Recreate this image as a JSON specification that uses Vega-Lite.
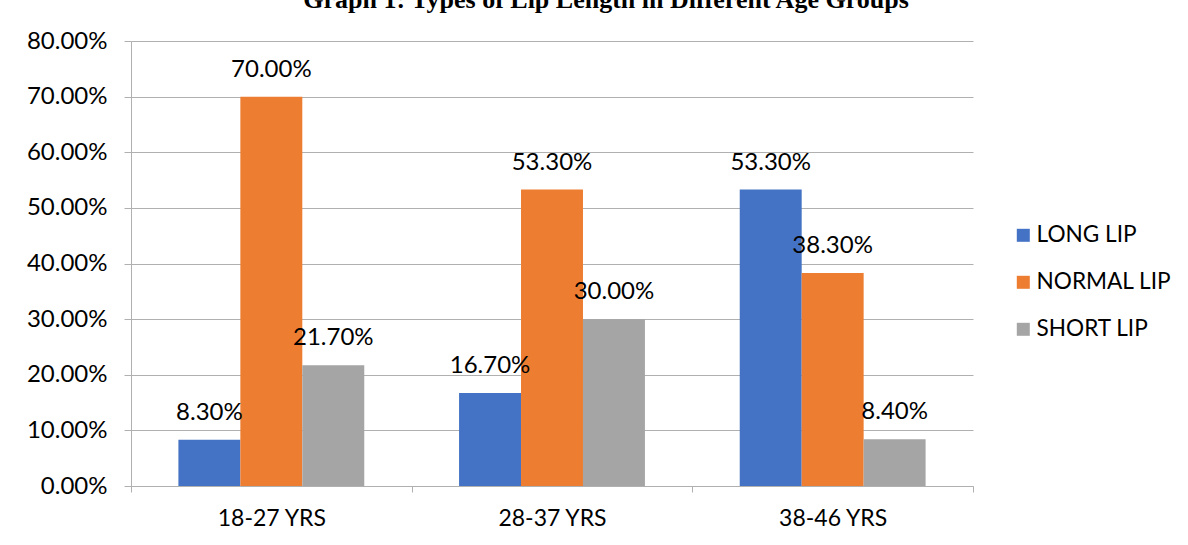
{
  "$schema": "https://vega.github.io/schema/vega-lite/v6.json",
  "width": 842,
  "height": 445,
  "autosize": {"type": "none"},
  "padding": {"left": 131, "top": 41, "right": 215, "bottom": 59},
  "background": "white",
  "title": {
    "text": "Graph 1: Types of Lip Length in Different Age Groups",
    "font": "Liberation Serif",
    "fontWeight": "bold",
    "fontSize": 26,
    "color": "#000000",
    "anchor": "middle",
    "offset": 16,
    "dx": 54
  },
  "data": {
    "values": [
      {"age": "18-27 YRS", "type": "LONG LIP", "value": 0.083},
      {"age": "18-27 YRS", "type": "NORMAL LIP", "value": 0.70},
      {"age": "18-27 YRS", "type": "SHORT LIP", "value": 0.217},
      {"age": "28-37 YRS", "type": "LONG LIP", "value": 0.167},
      {"age": "28-37 YRS", "type": "NORMAL LIP", "value": 0.533},
      {"age": "28-37 YRS", "type": "SHORT LIP", "value": 0.30},
      {"age": "38-46 YRS", "type": "LONG LIP", "value": 0.533},
      {"age": "38-46 YRS", "type": "NORMAL LIP", "value": 0.383},
      {"age": "38-46 YRS", "type": "SHORT LIP", "value": 0.084}
    ]
  },
  "encoding": {
    "x": {
      "field": "age",
      "type": "nominal",
      "sort": null,
      "scale": {"paddingInner": 0, "paddingOuter": 0},
      "axis": {
        "title": null,
        "labelAngle": 0,
        "tickBand": "extent",
        "ticks": true,
        "tickSize": 6,
        "tickColor": "#b0b0b0",
        "domainColor": "#b0b0b0",
        "labelFont": "Lato",
        "labelFontSize": 23,
        "labelColor": "#000000",
        "labelPadding": 15,
        "grid": false
      }
    },
    "xOffset": {
      "field": "type",
      "type": "nominal",
      "sort": ["LONG LIP", "NORMAL LIP", "SHORT LIP"],
      "scale": {"paddingInner": 0, "paddingOuter": 0.765}
    },
    "y": {
      "field": "value",
      "type": "quantitative",
      "scale": {"domain": [0, 0.8], "nice": false},
      "axis": {
        "title": null,
        "format": ".2%",
        "values": [0, 0.1, 0.2, 0.3, 0.4, 0.5, 0.6, 0.7, 0.8],
        "labelOverlap": false,
        "tickSize": 7,
        "tickColor": "#b0b0b0",
        "domainColor": "#b0b0b0",
        "gridColor": "#b0b0b0",
        "grid": true,
        "labelFont": "Lato",
        "labelFontSize": 24,
        "labelColor": "#000000",
        "labelPadding": 17
      }
    },
    "color": {
      "field": "type",
      "type": "nominal",
      "sort": ["LONG LIP", "NORMAL LIP", "SHORT LIP"],
      "scale": {
        "domain": ["LONG LIP", "NORMAL LIP", "SHORT LIP"],
        "range": ["#4472C4", "#ED7D31", "#A5A5A5"]
      },
      "legend": {
        "title": null,
        "orient": "none",
        "legendX": 881,
        "legendY": 183,
        "padding": 0,
        "symbolType": "square",
        "symbolSize": 169,
        "symbolStrokeWidth": 0,
        "labelFont": "Lato",
        "labelFontSize": 22.6,
        "labelColor": "#000000",
        "labelOffset": 2,
        "rowPadding": 24
      }
    }
  },
  "layer": [
    {"mark": {"type": "bar"}},
    {
      "mark": {
        "type": "text",
        "font": "Lato",
        "fontSize": 24,
        "color": "#000000",
        "baseline": "middle",
        "dy": -27
      },
      "encoding": {
        "text": {"field": "value", "type": "quantitative", "format": ".2%"},
        "color": {"value": "#000000"}
      }
    }
  ],
  "config": {
    "view": {"stroke": null}
  }
}
